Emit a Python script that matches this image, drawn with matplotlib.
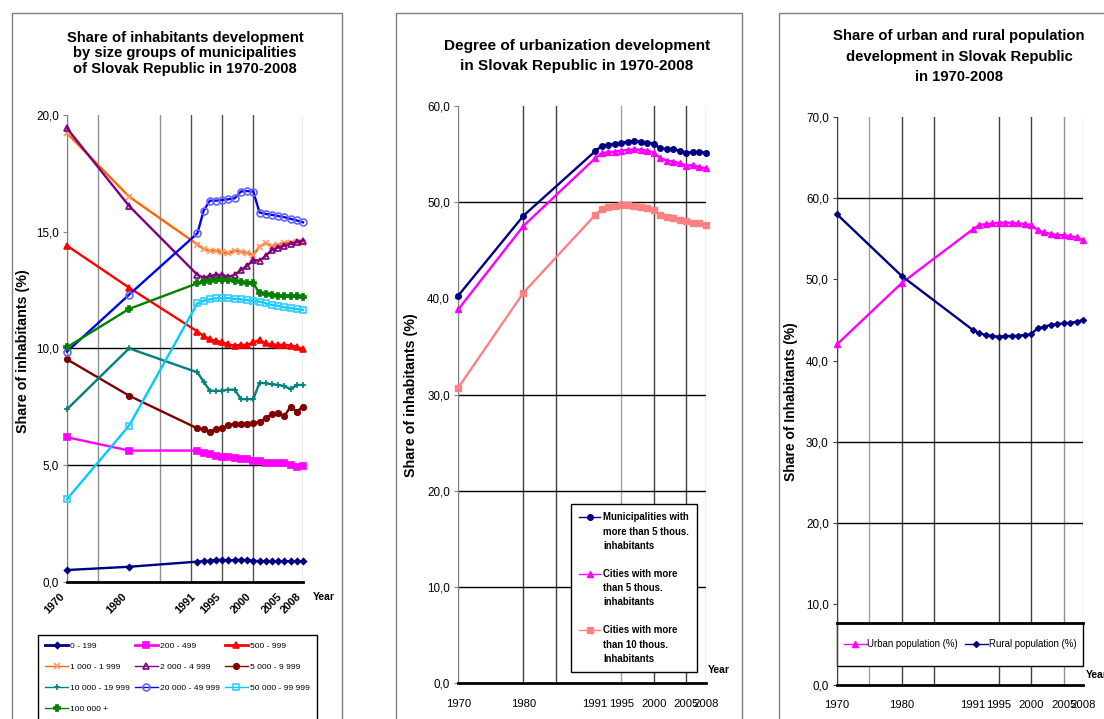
import matplotlib
matplotlib.use('Agg')
import matplotlib.pyplot as plt
from matplotlib.lines import Line2D
from matplotlib.patches import Rectangle
from matplotlib.ticker import FuncFormatter, MultipleLocator

plt.rcParams['font.family'] = ['Liberation Sans', 'DejaVu Sans']

# ---- data -------------------------------------------------------------
years = [1970, 1980, 1991, 1992, 1993, 1994, 1995, 1996, 1997, 1998, 1999,
         2000, 2001, 2002, 2003, 2004, 2005, 2006, 2007, 2008]
year_ticks = [1970, 1980, 1991, 1995, 2000, 2005, 2008]

# panel 1: share of inhabitants by size group of municipality (%)
size_labels = ['0 - 199', '200 - 499', '500 - 999', '1 000 - 1 999',
               '2 000 - 4 999', '5 000 - 9 999', '10 000 - 19 999',
               '20 000 - 49 999', '50 000 - 99 999', '100 000 +']
size_0_199 = [0.50, 0.64, 0.86, 0.88, 0.90, 0.94, 0.92, 0.92, 0.92, 0.94,
              0.92, 0.90, 0.88, 0.88, 0.88, 0.88, 0.88, 0.88, 0.88, 0.88]
size_200_499 = [6.19, 5.62, 5.62, 5.53, 5.47, 5.39, 5.36, 5.36, 5.29, 5.24,
                5.24, 5.19, 5.19, 5.10, 5.07, 5.07, 5.07, 5.00, 4.93, 4.96]
size_500_999 = [14.40, 12.60, 10.72, 10.53, 10.39, 10.33, 10.26, 10.17, 10.12, 10.15,
                10.15, 10.26, 10.36, 10.21, 10.17, 10.15, 10.15, 10.12, 10.07, 9.96]
size_1000_1999 = [19.22, 16.50, 14.45, 14.26, 14.19, 14.19, 14.12, 14.07, 14.19, 14.14,
                  14.09, 14.00, 14.36, 14.50, 14.38, 14.43, 14.52, 14.52, 14.55, 14.52]
size_2000_4999 = [19.43, 16.10, 13.15, 13.03, 13.10, 13.15, 13.15, 13.07, 13.15, 13.36,
                  13.53, 13.79, 13.76, 13.96, 14.22, 14.32, 14.39, 14.48, 14.56, 14.62]
size_5000_9999 = [9.53, 7.97, 6.57, 6.53, 6.43, 6.53, 6.57, 6.72, 6.76, 6.76,
                  6.76, 6.79, 6.86, 7.00, 7.19, 7.22, 7.10, 7.50, 7.29, 7.50]
size_10000_19999 = [7.39, 10.00, 8.97, 8.57, 8.19, 8.17, 8.19, 8.23, 8.23, 7.83,
                    7.82, 7.82, 8.53, 8.50, 8.46, 8.43, 8.38, 8.25, 8.43, 8.43]
size_20000_49999 = [9.86, 12.30, 14.93, 15.90, 16.33, 16.33, 16.36, 16.39, 16.43, 16.72,
                    16.74, 16.72, 15.82, 15.76, 15.72, 15.67, 15.62, 15.55, 15.48, 15.40]
size_50000_99999 = [3.54, 6.69, 11.93, 12.04, 12.10, 12.15, 12.15, 12.15, 12.12, 12.10,
                    12.07, 12.04, 12.00, 11.93, 11.86, 11.82, 11.76, 11.72, 11.68, 11.65]
size_100000 = [10.05, 11.69, 12.79, 12.86, 12.90, 12.93, 12.93, 12.93, 12.90, 12.86,
               12.81, 12.79, 12.36, 12.32, 12.29, 12.26, 12.24, 12.24, 12.23, 12.22]

# panel 2: degree of urbanization (%)
muni_5k = [40.30, 48.60, 55.30, 55.85, 55.96, 56.06, 56.20, 56.30, 56.37, 56.30,
           56.20, 56.06, 55.61, 55.54, 55.50, 55.37, 55.09, 55.26, 55.20, 55.16]
cities_5k = [38.87, 47.54, 54.57, 55.09, 55.20, 55.26, 55.37, 55.44, 55.50, 55.44,
             55.37, 55.16, 54.57, 54.33, 54.22, 54.05, 53.80, 53.87, 53.64, 53.53]
cities_10k = [30.73, 40.60, 48.68, 49.30, 49.48, 49.60, 49.68, 49.68, 49.60, 49.54,
              49.44, 49.20, 48.68, 48.44, 48.33, 48.16, 48.06, 47.88, 47.82, 47.64]

# panel 3: urban / rural population (%)
urban = [42.00, 49.57, 56.20, 56.72, 56.84, 56.93, 57.00, 57.00, 57.00, 56.93,
         56.84, 56.72, 56.10, 55.82, 55.61, 55.49, 55.45, 55.36, 55.20, 54.87]
rural = [58.04, 50.43, 43.77, 43.36, 43.16, 43.03, 42.95, 43.03, 43.03, 43.07,
         43.16, 43.28, 43.98, 44.18, 44.39, 44.51, 44.60, 44.67, 44.80, 45.00]

# ---- styles -----------------------------------------------------------
size_series = [size_0_199, size_200_499, size_500_999, size_1000_1999,
               size_2000_4999, size_5000_9999, size_10000_19999,
               size_20000_49999, size_50000_99999, size_100000]
# color, marker, face, edge, markersize, legend line width
size_styles = [
    ('#000080', 'D', '#000080', '#000080', 3.0, 2.0),
    ('#FF00FF', 's', '#FF00FF', '#FF00FF', 4.5, 2.0),
    ('#FF0000', '^', '#FF0000', '#FF0000', 4.5, 2.0),
    ('#FF6600', 'x', '#FF9966', '#FF9966', 4.0, 1.0),
    ('#800080', '^', 'none', '#800080', 4.0, 1.0),
    ('#800000', 'o', '#800000', '#800000', 4.0, 1.0),
    ('#008080', '+', '#008080', '#008080', 5.0, 1.0),
    ('#0000FF', 'o', 'none', '#6666FF', 5.0, 1.0),
    ('#00CCFF', 's', 'none', '#33CCFF', 5.0, 1.0),
    ('#008000', 'P', '#008000', '#008000', 4.5, 1.0),
]

W, H = 1104, 719


def fx(px):
    return px / W


def fy(py):
    return 1 - py / H


def comma(v, pos):
    return f'{v:.1f}'.replace('.', ',')


def setup(ax, ymax, ystep, vgrid, hgrid, left_color):
    ax.set_xlim(1970, 2008)
    ax.set_ylim(0, ymax)
    ax.yaxis.set_major_locator(MultipleLocator(ystep))
    ax.yaxis.set_major_formatter(FuncFormatter(comma))
    ax.set_xticks(year_ticks)
    ax.spines['top'].set_visible(False)
    ax.spines['right'].set_visible(False)
    ax.spines['left'].set_color(left_color)
    ax.spines['bottom'].set_color('black')
    ax.spines['bottom'].set_linewidth(2)
    ax.tick_params(axis='y', length=3, color=left_color, labelsize=8.4, pad=3)
    for yr, c in vgrid:
        ax.axvline(yr, color=c, lw=1, zorder=1)
    for v in hgrid:
        ax.axhline(v, color='black', lw=1, zorder=1)


fig = plt.figure(figsize=(W / 100, H / 100), dpi=100)
fig.patch.set_facecolor('white')

# chart frames
for x0, x1 in [(12, 342), (396, 742), (779, 1120)]:
    fig.patches.append(Rectangle((fx(x0), -0.05), fx(x1 - x0), fy(13) + 0.05,
                                 transform=fig.transFigure, fill=False,
                                 edgecolor='#808080', lw=1, zorder=0))

# ---- panel 1 ----------------------------------------------------------
ax1 = fig.add_axes([fx(67), fy(581.7), fx(236), 466.7 / H])
setup(ax1, 20, 5,
      [(1970, '#808080'), (1975, '#909090'), (1985, '#909090'), (1990, '#505050'),
       (1995, '#505050'), (2000, '#505050'), (2008, '#a0a0a0')],
      [5, 10], '#808080')
lines1 = []
for vals, (c, m, mfc, mec, ms, lw) in zip(size_series, size_styles):
    ln, = ax1.plot(years, vals, color=c, lw=1.7, marker=m, mfc=mfc, mec=mec,
                   ms=ms, mew=1.2, clip_on=False, zorder=3)
    lines1.append(ln)
ax1.set_xticks(year_ticks)
ax1.set_xticklabels([str(y) for y in year_ticks], rotation=45, ha='right',
                    va='top', fontsize=7.8, fontweight='bold')
ax1.tick_params(axis='x', length=0, pad=7)
ax1.set_ylabel('Share of inhabitants (%)', fontsize=10.3, fontweight='bold')
ax1.yaxis.set_label_coords(-0.157, 0.494)
ax1.text(1.042, -0.032, 'Year', transform=ax1.transAxes, fontsize=7.5,
         fontweight='bold', ha='left', va='center')
fig.text(fx(185), fy(53.3), 'Share of inhabitants development\nby size groups of municipalities\nof Slovak Republic in 1970-2008',
         ha='center', va='center', fontsize=10.6, fontweight='bold', linespacing=1.15)

# legend in row order 3 columns -> column-major order for matplotlib
order = [0, 3, 6, 9, 1, 4, 7, 2, 5, 8]
leg1 = ax1.legend([lines1[i] for i in order], [size_labels[i] for i in order],
                  ncol=3, loc='upper left', mode='expand',
                  bbox_to_anchor=(fx(38), fy(635) - 0.3, fx(279), 0.3),
                  bbox_transform=fig.transFigure, fontsize=6.1, frameon=True,
                  fancybox=False, edgecolor='black', framealpha=1,
                  borderpad=0.85, labelspacing=1.55, handlelength=2.7,
                  handletextpad=0.25, borderaxespad=0, columnspacing=0.5)
leg1.get_frame().set_linewidth(1)
for h, i in zip(leg1.get_lines(), order):
    h.set_linewidth(size_styles[i][5])

# ---- panel 2 ----------------------------------------------------------
ax2 = fig.add_axes([fx(458.3), fy(683.3), fx(247.7), 577.3 / H])
setup(ax2, 60, 10,
      [(1970, '#a0a0a0'), (1980, '#404040'), (1985, '#404040'), (1995, '#a0a0a0'),
       (2000, '#404040'), (2005, '#404040'), (2008, '#b0b0b0')],
      [10, 20, 30, 50], '#808080')
l_m, = ax2.plot(years, muni_5k, color='#000080', lw=1.7, marker='o', ms=4,
                clip_on=False, zorder=3)
l_c5, = ax2.plot(years, cities_5k, color='#FF00FF', lw=1.7, marker='^', ms=4,
                 clip_on=False, zorder=3)
l_c10, = ax2.plot(years, cities_10k, color='#FF8080', lw=1.7, marker='s', ms=4,
                  clip_on=False, zorder=3)
ax2.tick_params(axis='x', length=0, pad=11, labelsize=8.1)
ax2.set_ylabel('Share of inhabitants (%)', fontsize=10.3, fontweight='bold')
ax2.yaxis.set_label_coords(-0.163, 0.5)
ax2.text(1.008, 0.023, 'Year', transform=ax2.transAxes, fontsize=7.5,
         fontweight='bold', ha='left', va='center')
fig.text(fx(576.7), fy(55.8), 'Degree of urbanization development\nin Slovak Republic in 1970-2008',
         ha='center', va='center', fontsize=11.1, fontweight='bold', linespacing=1.58)

blank = Line2D([], [], color='none')
h_m = Line2D([], [], color='#000080', lw=1, marker='o', ms=4)
h_c5 = Line2D([], [], color='#FF00FF', lw=1, marker='^', ms=4)
h_c10 = Line2D([], [], color='#FF8080', lw=1, marker='s', ms=4)
leg2_handles = [h_m, blank, blank, blank, h_c5, blank, blank, blank, h_c10, blank, blank]
leg2_labels = ['Municipalities with', 'more than 5 thous.', 'inhabitants', ' ',
               'Cities with more', 'than 5 thous.', 'inhabitants', ' ',
               'Cities with more', 'than 10 thous.', 'Inhabitants']
leg2 = ax2.legend(leg2_handles, leg2_labels, loc='upper left',
                  bbox_to_anchor=(0.455, 0.31),
                  prop={'weight': 'bold', 'size': 6.9},
                  frameon=True, fancybox=False, edgecolor='black', framealpha=1,
                  borderpad=0.85, labelspacing=0.43, handlelength=2.2,
                  handletextpad=0.3, borderaxespad=0)
leg2.get_frame().set_linewidth(1)

# ---- panel 3 ----------------------------------------------------------
ax3 = fig.add_axes([fx(837), fy(685), fx(246), 567.7 / H])
setup(ax3, 70, 10,
      [(1970, '#404040'), (1975, '#a0a0a0'), (1980, '#404040'), (1985, '#404040'),
       (1995, '#404040'), (2000, '#404040'), (2005, '#909090'), (2008, '#c0c0c0')],
      [20, 30, 60], '#404040')
l_u, = ax3.plot(years, urban, color='#FF00FF', lw=1.7, marker='^', ms=4,
                clip_on=False, zorder=3)
l_r, = ax3.plot(years, rural, color='#000080', lw=1.7, marker='D', ms=3,
                clip_on=False, zorder=3)
ax3.tick_params(axis='x', length=0, pad=11, labelsize=8.1)
ax3.set_ylabel('Share of Inhabitants (%)', fontsize=10.0, fontweight='bold')
ax3.yaxis.set_label_coords(-0.158, 0.5)
ax3.text(1.012, 0.0176, 'Year', transform=ax3.transAxes, fontsize=7.5,
         fontweight='bold', ha='left', va='center')
fig.text(fx(959), fy(56.7), 'Share of urban and rural population\ndevelopment in Slovak Republic\nin 1970-2008',
         ha='center', va='center', fontsize=10.7, fontweight='bold', linespacing=1.6)

# legend band inside plot area
ax3.add_patch(Rectangle((0, 0.0335), 1, 0.0762, transform=ax3.transAxes,
                        facecolor='white', edgecolor='black', lw=1, zorder=2.5,
                        clip_on=False))
ax3.add_line(Line2D([0, 1], [0.1097, 0.1097], transform=ax3.transAxes,
                    color='black', lw=2, zorder=2.6, clip_on=False))
h_u = Line2D([], [], color='#FF00FF', lw=1, marker='^', ms=4)
h_r = Line2D([], [], color='#000080', lw=1, marker='D', ms=3)
leg3 = ax3.legend([h_u, h_r], ['Urban population (%)', 'Rural population (%)'],
                  ncol=2, loc='center', bbox_to_anchor=(0, 0.0335, 1, 0.0762),
                  fontsize=6.9, frameon=False, handlelength=2.4,
                  handletextpad=0.1, columnspacing=0.7, borderaxespad=0)

fig.savefig('out.png', dpi=100, facecolor='white')
